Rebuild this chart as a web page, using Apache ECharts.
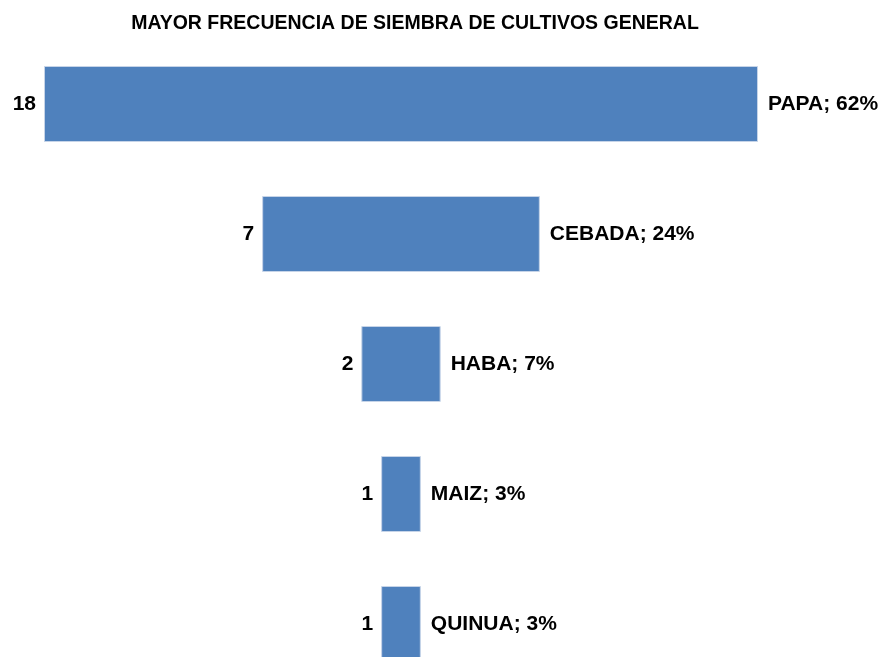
<!DOCTYPE html>
<html>
<head>
<meta charset="utf-8">
<script src="https://cdn.jsdelivr.net/npm/echarts@6/dist/echarts.min.js"></script>
<style>
  html, body { margin: 0; padding: 0; background: #fff; }
  #chart { width: 883px; height: 657px; }
</style>
</head>
<body>
<div id="chart"></div>
<script>
const cultivos = ['PAPA', 'CEBADA', 'HABA', 'MAIZ', 'QUINUA']
const frecuencia = [18, 7, 2, 1, 1]
const porcentaje = [62, 24, 7, 3, 3]

const maxVal = Math.max(...frecuencia)
// espacio transparente para centrar cada barra
const relleno = frecuencia.map(v => (maxVal - v) / 2)

const fuente = '"Liberation Sans", Arial, sans-serif'

let chart = echarts.init(document.getElementById('chart'))
chart.setOption({
  animation: false,
  title: {
    text: 'MAYOR FRECUENCIA DE SIEMBRA DE CULTIVOS GENERAL',
    left: 410,
    textAlign: 'center',
    top: 9,
    textStyle: { fontFamily: fuente, fontWeight: 'bold', fontSize: 19.5, color: '#000' }
  },
  grid: { left: 44, right: 125, top: 39, height: 650, outerBoundsMode: 'none', containLabel: false },
  xAxis: { type: 'value', min: 0, max: maxVal, show: false },
  yAxis: { type: 'category', inverse: true, data: cultivos, show: false },
  series: [
    {
      type: 'bar',
      stack: 'total',
      barWidth: 76,
      data: relleno,
      itemStyle: { color: 'transparent' },
      label: {
        show: true,
        position: 'insideRight',
        distance: 8,
        formatter: (p) => frecuencia[p.dataIndex],
        fontFamily: fuente,
        fontWeight: 'bold',
        fontSize: 21,
        color: '#000'
      },
      silent: true
    },
    {
      type: 'bar',
      stack: 'total',
      barWidth: 76,
      data: frecuencia,
      itemStyle: { color: '#4F81BD', borderColor: '#C6D4E8', borderWidth: 1 },
      label: {
        show: true,
        position: 'right',
        distance: 10,
        formatter: (p) => cultivos[p.dataIndex] + '; ' + porcentaje[p.dataIndex] + '%',
        fontFamily: fuente,
        fontWeight: 'bold',
        fontSize: 21,
        color: '#000'
      }
    }
  ]
})
</script>
</body>
</html>
